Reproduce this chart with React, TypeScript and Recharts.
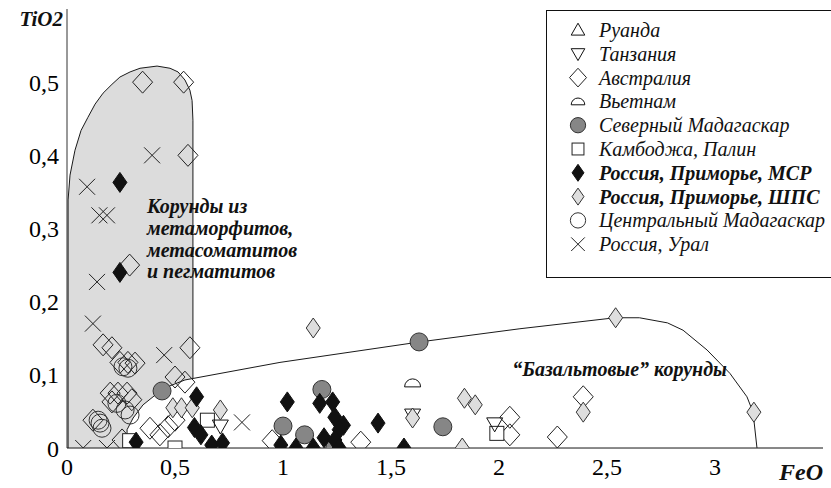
import React from 'react';
import { ScatterChart, Scatter, XAxis, YAxis } from 'recharts';

type Pt = { x: number; y: number };

const FONT = 'Liberation Serif';

const feoTicks = [0, 0.5, 1, 1.5, 2, 2.5, 3];
const tio2Ticks = [0, 0.1, 0.2, 0.3, 0.4, 0.5];

// поле корундов из метаморфитов (серая заливка)
const metamorphicField: Pt[] = [
  { x: 0.005, y: 0 }, { x: 0.005, y: 0.339 }, { x: 0.014, y: 0.373 }, { x: 0.037, y: 0.407 },
  { x: 0.065, y: 0.434 }, { x: 0.097, y: 0.452 }, { x: 0.13, y: 0.47 }, { x: 0.167, y: 0.485 },
  { x: 0.208, y: 0.497 }, { x: 0.245, y: 0.507 }, { x: 0.292, y: 0.514 }, { x: 0.338, y: 0.519 },
  { x: 0.417, y: 0.522 }, { x: 0.477, y: 0.519 }, { x: 0.514, y: 0.514 }, { x: 0.546, y: 0.503 },
  { x: 0.569, y: 0.489 }, { x: 0.579, y: 0.475 }, { x: 0.583, y: 0.448 }, { x: 0.583, y: 0 },
  { x: 0.005, y: 0 },
];

// поле "базальтовых" корундов
const basaltField: Pt[] = [
  { x: 0.278, y: 0 }, { x: 0.278, y: 0.025 }, { x: 0.306, y: 0.041 }, { x: 0.352, y: 0.059 },
  { x: 0.407, y: 0.072 }, { x: 0.477, y: 0.085 }, { x: 0.546, y: 0.093 }, { x: 0.986, y: 0.117 },
  { x: 1.634, y: 0.145 }, { x: 2.097, y: 0.163 }, { x: 2.537, y: 0.178 }, { x: 2.65, y: 0.178 },
  { x: 2.78, y: 0.171 }, { x: 2.852, y: 0.161 }, { x: 2.963, y: 0.134 }, { x: 3.069, y: 0.102 },
  { x: 3.148, y: 0.07 }, { x: 3.176, y: 0.049 }, { x: 3.194, y: 0.001 }, { x: 3.194, y: 0 },
  { x: 0.278, y: 0 },
];

const rwanda: Pt[] = [];
const tanzania: Pt[] = [{ x: 0.71, y: 0.03 }, { x: 1.6, y: 0.045 }, { x: 1.98, y: 0.033 }];
const australia: Pt[] = [
  { x: 0.35, y: 0.5 }, { x: 0.54, y: 0.5 }, { x: 0.56, y: 0.4 }, { x: 0.29, y: 0.25 },
  { x: 0.167, y: 0.141 }, { x: 0.208, y: 0.137 }, { x: 0.245, y: 0.117 }, { x: 0.282, y: 0.117 },
  { x: 0.315, y: 0.116 }, { x: 0.569, y: 0.137 }, { x: 0.5, y: 0.097 }, { x: 0.546, y: 0.09 },
  { x: 0.2, y: 0.075 }, { x: 0.236, y: 0.075 }, { x: 0.278, y: 0.075 }, { x: 0.208, y: 0.063 },
  { x: 0.3, y: 0.066 }, { x: 0.12, y: 0.038 }, { x: 0.255, y: 0.011 }, { x: 0.384, y: 0.027 },
  { x: 0.43, y: 0.018 }, { x: 0.468, y: 0.029 }, { x: 0.5, y: 0.038 }, { x: 0.95, y: 0.01 },
  { x: 1.36, y: 0.008 }, { x: 2.05, y: 0.042 }, { x: 2.05, y: 0.018 }, { x: 2.27, y: 0.015 },
  { x: 2.39, y: 0.07 },
];
const vietnam: Pt[] = [{ x: 1.6, y: 0.089 }];
const northMadagascar: Pt[] = [
  { x: 0.44, y: 0.078 }, { x: 1.0, y: 0.03 }, { x: 1.1, y: 0.018 }, { x: 1.18, y: 0.08 },
  { x: 1.24, y: 0.0 }, { x: 1.74, y: 0.029 }, { x: 1.63, y: 0.145 },
];
const cambodia: Pt[] = [{ x: 0.29, y: 0.01 }, { x: 0.5, y: 0.0 }, { x: 0.65, y: 0.038 }, { x: 1.99, y: 0.02 }];
const primoryeMSR: Pt[] = [
  { x: 0.245, y: 0.363 }, { x: 0.245, y: 0.24 }, { x: 0.32, y: 0.008 }, { x: 0.6, y: 0.07 },
  { x: 0.59, y: 0.028 }, { x: 0.62, y: 0.018 }, { x: 0.67, y: 0.004 }, { x: 0.72, y: 0.007 },
  { x: 1.02, y: 0.063 }, { x: 0.99, y: 0.004 }, { x: 1.06, y: 0.0 }, { x: 1.14, y: 0.0 },
  { x: 1.17, y: 0.061 }, { x: 1.23, y: 0.063 }, { x: 1.24, y: 0.042 }, { x: 1.28, y: 0.031 },
  { x: 1.26, y: 0.025 }, { x: 1.19, y: 0.014 }, { x: 1.24, y: 0.011 }, { x: 1.26, y: 0.0 },
  { x: 1.44, y: 0.034 }, { x: 1.56, y: 0.0 },
];
const primoryeSHPS: Pt[] = [
  { x: 0.49, y: 0.055 }, { x: 0.53, y: 0.055 }, { x: 0.58, y: 0.055 }, { x: 0.71, y: 0.052 },
  { x: 1.14, y: 0.164 }, { x: 1.6, y: 0.041 }, { x: 1.84, y: 0.068 }, { x: 1.89, y: 0.059 },
  { x: 1.83, y: 0.0 }, { x: 2.39, y: 0.049 }, { x: 2.54, y: 0.178 }, { x: 3.18, y: 0.049 },
];
const centralMadagascar: Pt[] = [
  { x: 0.259, y: 0.111 }, { x: 0.282, y: 0.109 }, { x: 0.231, y: 0.061 }, { x: 0.269, y: 0.052 },
  { x: 0.292, y: 0.045 }, { x: 0.153, y: 0.034 }, { x: 0.162, y: 0.027 }, { x: 0.144, y: 0.038 },
];
const ural: Pt[] = [
  { x: 0.093, y: 0.357 }, { x: 0.394, y: 0.4 }, { x: 0.15, y: 0.318 }, { x: 0.185, y: 0.318 },
  { x: 0.139, y: 0.227 }, { x: 0.12, y: 0.17 }, { x: 0.45, y: 0.127 }, { x: 0.075, y: 0 },
  { x: 0.185, y: 0 }, { x: 0.81, y: 0.035 },
];

const Marker = ({ kind, x, y, k = 1 }: { kind: string; x: number; y: number; k?: number }) => {
  const s = (v: number) => v * k;
  switch (kind) {
    case 'triUp':
      return <polygon points={`${x - s(8)},${y + s(6)} ${x + s(8)},${y + s(6)} ${x},${y - s(8)}`} fill="none" stroke="#111" />;
    case 'triDown':
      return <polygon points={`${x - s(8)},${y - s(6)} ${x + s(8)},${y - s(6)} ${x},${y + s(8)}`} fill="none" stroke="#111" />;
    case 'diamond':
      return <polygon points={`${x},${y - s(11)} ${x + s(10)},${y} ${x},${y + s(11)} ${x - s(10)},${y}`} fill="none" stroke="#222" />;
    case 'half':
      return <path d={`M${x - s(8)},${y + s(4)} A${s(8)},${s(8)} 0 0 1 ${x + s(8)},${y + s(4)} Z`} fill="#fff" stroke="#111" />;
    case 'gcircle':
      return <circle cx={x} cy={y} r={s(9)} fill="#868686" stroke="#333" />;
    case 'square':
      return <rect x={x - s(7)} y={y - s(7)} width={s(14)} height={s(14)} fill="#fff" stroke="#222" />;
    case 'bdiamond':
      return <polygon points={`${x},${y - s(10)} ${x + s(7)},${y} ${x},${y + s(10)} ${x - s(7)},${y}`} fill="#111" stroke="#111" />;
    case 'ldiamond':
      return <polygon points={`${x},${y - s(10)} ${x + s(7)},${y} ${x},${y + s(10)} ${x - s(7)},${y}`} fill="#dedede" stroke="#333" />;
    case 'ocircle':
      return <circle cx={x} cy={y} r={s(9)} fill="none" stroke="#333" />;
    case 'cross':
      return (
        <g stroke="#222">
          <line x1={x - s(8)} y1={y - s(8)} x2={x + s(8)} y2={y + s(8)} />
          <line x1={x - s(8)} y1={y + s(8)} x2={x + s(8)} y2={y - s(8)} />
        </g>
      );
    default:
      return <g />;
  }
};

const series = [
  { name: 'Руанда', kind: 'triUp', data: rwanda, bold: false },
  { name: 'Танзания', kind: 'triDown', data: tanzania, bold: false },
  { name: 'Австралия', kind: 'diamond', data: australia, bold: false },
  { name: 'Вьетнам', kind: 'half', data: vietnam, bold: false },
  { name: 'Северный Мадагаскар', kind: 'gcircle', data: northMadagascar, bold: false },
  { name: 'Камбоджа, Палин', kind: 'square', data: cambodia, bold: false },
  { name: 'Россия, Приморье, МСР', kind: 'bdiamond', data: primoryeMSR, bold: true },
  { name: 'Россия, Приморье, ШПС', kind: 'ldiamond', data: primoryeSHPS, bold: true },
  { name: 'Центральный Мадагаскар', kind: 'ocircle', data: centralMadagascar, bold: false },
  { name: 'Россия, Урал', kind: 'cross', data: ural, bold: false },
];

// порядок отрисовки: сверху — чёрные ромбы
const drawOrder = ['diamond', 'ocircle', 'cross', 'square', 'triUp', 'triDown', 'half', 'ldiamond', 'gcircle', 'bdiamond'];

const fmt = (v: number) => String(v).replace('.', ',');

export default function App() {
  const tickStyle = { fill: '#000', fontSize: 24, fontFamily: FONT };
  const annot = { fill: '#111', fontFamily: FONT, fontWeight: 700, fontStyle: 'italic', fontSize: 20 };
  return (
    <div style={{ position: 'absolute', left: 0, top: 0, width: 831, height: 488, background: '#fff', overflow: 'hidden' }}>
      <ScatterChart width={831} height={488} margin={{ top: 9, right: 8, bottom: 0, left: 0 }}>
        <XAxis
          type="number"
          dataKey="x"
          domain={[0, 3.5]}
          ticks={feoTicks}
          tickFormatter={fmt}
          tickLine={false}
          tickMargin={4}
          height={40}
          axisLine={{ stroke: '#111', strokeWidth: 1 }}
          tick={tickStyle}
          allowDataOverflow
        />
        <YAxis
          type="number"
          dataKey="y"
          domain={[0, 0.6]}
          ticks={tio2Ticks}
          tickFormatter={fmt}
          tickLine={false}
          width={67}
          axisLine={{ stroke: '#333', strokeWidth: 1 }}
          tick={tickStyle}
          allowDataOverflow
        />
        <Scatter
          data={metamorphicField}
          isAnimationActive={false}
          line={{ fill: '#dcdcdc', stroke: '#1a1a1a', strokeWidth: 1 }}
          lineType="joint"
          shape={() => <g />}
        />
        <Scatter
          data={basaltField}
          isAnimationActive={false}
          line={{ fill: '#ffffff', stroke: '#1a1a1a', strokeWidth: 1 }}
          lineType="joint"
          shape={() => <g />}
        />
        {drawOrder.map((kind) => {
          const s = series.find((d) => d.kind === kind)!;
          return (
            <Scatter
              key={kind}
              name={s.name}
              data={s.data}
              isAnimationActive={false}
              shape={(p: any) => <Marker kind={kind} x={p.cx} y={p.cy} />}
            />
          );
        })}
      </ScatterChart>

      <svg width={831} height={488} style={{ position: 'absolute', left: 0, top: 0, pointerEvents: 'none' }}>
        <text x={63} y={26} textAnchor="end" {...annot} fontSize={21}>TiO2</text>
        <text x={823} y={480} textAnchor="end" {...annot} fontSize={24}>FeO</text>
        <text {...annot}>
          <tspan x={147} y={213}>Корунды из</tspan>
          <tspan x={147} y={235}>метаморфитов,</tspan>
          <tspan x={147} y={257}>метасоматитов</tspan>
          <tspan x={147} y={278}>и пегматитов</tspan>
        </text>
        <text x={727} y={376} textAnchor="end" {...annot}>“Базальтовые” корунды</text>

        <rect x={546.5} y={10.5} width={300} height={267} fill="#fff" stroke="#111" />
        {series.map((s, i) => {
          const cy = 30 + i * 23.8;
          return (
            <g key={s.name}>
              <Marker kind={s.kind} x={578} y={cy} k={0.85} />
              <text
                x={599}
                y={cy + 7}
                fill="#111"
                fontFamily={FONT}
                fontStyle="italic"
                fontWeight={s.bold ? 700 : 400}
                fontSize={20}
              >
                {s.name}
              </text>
            </g>
          );
        })}
      </svg>
    </div>
  );
}
